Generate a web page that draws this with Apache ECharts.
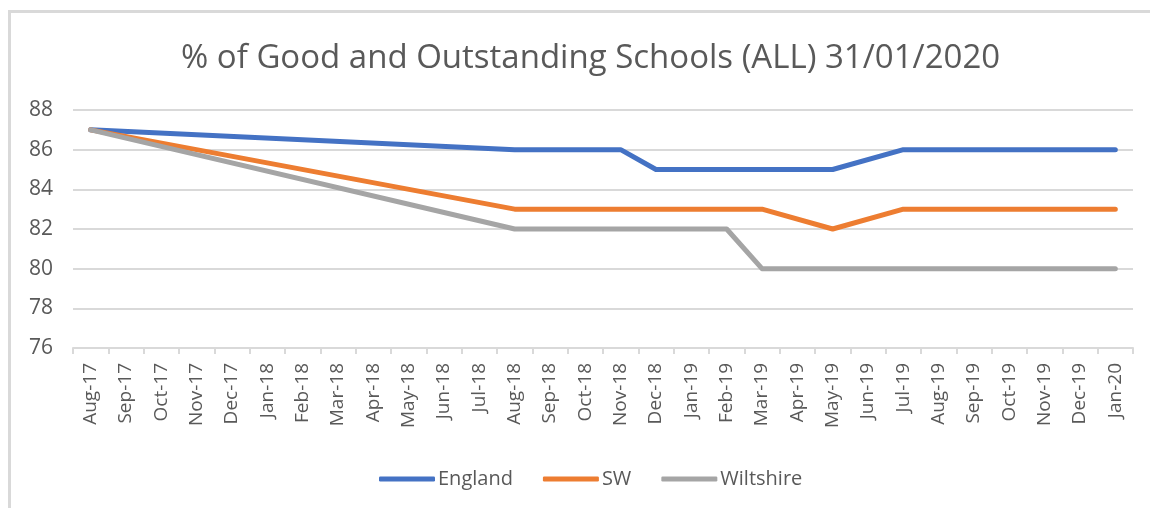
<!DOCTYPE html>
<html>
<head>
    <meta charset="utf-8">
    <script src="https://cdn.jsdelivr.net/npm/echarts@6/dist/echarts.min.js"></script>
</head>
<body style="margin: 0; background: #fff">
    <div style="position: absolute; left: 8px; top: 10px; width: 1160px; height: 520px; border-left: 3px solid #d9d9d9; border-top: 3px solid #d9d9d9"></div>
    <div id="main" style="position: absolute; left: 0; top: 0; width: 1150px; height: 508px"></div>
    <script type="text/javascript">
        var months = ['Aug-17', 'Sep-17', 'Oct-17', 'Nov-17', 'Dec-17', 'Jan-18', 'Feb-18', 'Mar-18', 'Apr-18', 'May-18',
            'Jun-18', 'Jul-18', 'Aug-18', 'Sep-18', 'Oct-18', 'Nov-18', 'Dec-18', 'Jan-19', 'Feb-19', 'Mar-19',
            'Apr-19', 'May-19', 'Jun-19', 'Jul-19', 'Aug-19', 'Sep-19', 'Oct-19', 'Nov-19', 'Dec-19', 'Jan-20'];
        // null = no reading that month, the line just joins the neighbours
        var england = [87, null, null, null, null, null, null, null, null, null, null, null,
            86, 86, 86, 86, 85, 85, 85, 85, 85, 85, null, 86, 86, 86, 86, 86, 86, 86];
        var sw = [87, null, null, null, null, null, null, null, null, null, null, null,
            83, 83, 83, 83, 83, 83, 83, 83, null, 82, null, 83, 83, 83, 83, 83, 83, 83];
        var wiltshire = [87, null, null, null, null, null, null, null, null, null, null, null,
            82, 82, 82, 82, 82, 82, 82, 80, 80, 80, 80, 80, 80, 80, 80, 80, 80, 80];

        var dom = document.getElementById('main');
        var myChart = echarts.init(dom, null, { renderer: 'canvas' });
        var font = 'Open Sans';

        function line(name, data, color) {
            return {
                name: name,
                type: 'line',
                data: data,
                connectNulls: true,
                showSymbol: false,
                symbol: 'none',
                lineStyle: { width: 5, color: color, cap: 'round', join: 'round' },
                itemStyle: { color: color }
            };
        }

        var option = {
            animation: false,
            title: {
                text: '% of Good and Outstanding Schools (ALL) 31/01/2020',
                left: 176,
                top: 37,
                textStyle: { fontFamily: font, fontSize: 33, fontWeight: 'normal', color: '#595959' }
            },
            legend: {
                bottom: 14,
                left: 374,
                itemWidth: 56,
                itemHeight: 5,
                itemGap: 30,
                icon: 'roundRect',
                textStyle: { fontFamily: font, fontSize: 20, color: '#595959', padding: [0, 0, 0, -2] },
                data: ['England', 'SW', 'Wiltshire']
            },
            grid: { left: 73, right: 17, top: 110, bottom: 160 },
            xAxis: {
                type: 'category',
                data: months,
                boundaryGap: true,
                axisLine: { lineStyle: { color: '#d9d9d9', width: 2 } },
                axisTick: { show: true, alignWithLabel: false, length: 6, lineStyle: { color: '#d9d9d9', width: 2 } },
                axisLabel: { rotate: 90, interval: 0, fontFamily: font, fontSize: 19, color: '#595959', margin: 15 }
            },
            yAxis: {
                type: 'value',
                min: 76,
                max: 88,
                interval: 2,
                axisLine: { show: false },
                axisTick: { show: false },
                axisLabel: { fontFamily: font, fontSize: 21, color: '#595959', margin: 20 },
                splitLine: { lineStyle: { color: '#d9d9d9', width: 2 } }
            },
            series: [
                line('England', england, '#4472C4'),
                line('SW', sw, '#ED7D31'),
                line('Wiltshire', wiltshire, '#A5A5A5')
            ]
        };
        myChart.setOption(option);
    </script>
</body>
</html>
